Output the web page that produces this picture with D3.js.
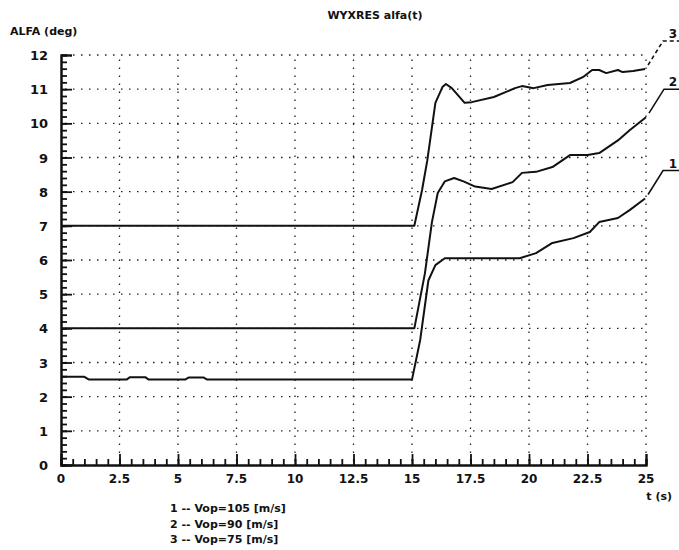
<!DOCTYPE html>
<meta charset="utf-8">
<style>
body { margin: 0; background: #fff; }
svg { display: block; background: #fff; }
text { font-family: "DejaVu Sans", sans-serif; font-weight: bold; fill: #111; }
.grid line { stroke: #222; stroke-width: 1.3px; stroke-dasharray: 1.5,6.5; }
.curve { fill: none; stroke: #111; stroke-width: 2px; stroke-linejoin: round; }
</style>
<svg width="679" height="550"></svg>
<script src="https://cdn.jsdelivr.net/npm/d3@7"></script>
<script>

// time points (s) and angle values (deg)
var t1 = [0, 1.0, 1.2, 2.8, 2.95, 3.6, 3.75, 5.3, 5.45, 6.1, 6.25, 15.0, 15.35, 15.7, 16.0, 16.4, 19.6, 20.3, 21.0, 21.9, 22.6, 23.0, 23.8, 24.3, 24.96];
var alfa1 = [2.58, 2.58, 2.5, 2.5, 2.57, 2.57, 2.5, 2.5, 2.56, 2.56, 2.5, 2.5, 3.66, 5.4, 5.85, 6.05, 6.05, 6.2, 6.5, 6.64, 6.82, 7.11, 7.23, 7.46, 7.8];

var t2 = [0, 15.1, 15.55, 15.85, 16.1, 16.4, 16.8, 17.2, 17.7, 18.4, 19.3, 19.7, 20.3, 21.0, 21.75, 22.5, 23.0, 23.8, 24.3, 25.0];
var alfa2 = [4.0, 4.0, 5.6, 7.1, 7.96, 8.3, 8.4, 8.3, 8.15, 8.08, 8.28, 8.55, 8.58, 8.72, 9.07, 9.07, 9.13, 9.5, 9.8, 10.18];

var t3 = [0, 15.1, 15.43, 15.65, 16.0, 16.3, 16.45, 16.7, 17.25, 17.55, 18.5, 19.4, 19.7, 20.2, 20.8, 21.75, 22.3, 22.7, 23.0, 23.3, 23.8, 24.0, 24.45, 24.96];
var alfa3 = [7.0, 7.0, 8.05, 8.9, 10.6, 11.06, 11.15, 11.03, 10.6, 10.62, 10.77, 11.03, 11.09, 11.03, 11.12, 11.18, 11.35, 11.56, 11.56, 11.47, 11.56, 11.5, 11.53, 11.59];

var xTickLabels = ["0", "2.5", "5", "7.5", "10", "12.5", "15", "17.5", "20", "22.5", "25"];
var yTickLabels = ["0", "1", "2", "3", "4", "5", "6", "7", "8", "9", "10", "11", "12"];
var seriesNames = ["1", "2", "3"];
var legendLines = ["1 -- Vop=105 [m/s]", "2 -- Vop=90 [m/s]", "3 -- Vop=75 [m/s]"];

var svg = d3.select("svg");

var x = d3.scaleLinear().domain([0, 25]).range([61, 646]);
var y = d3.scaleLinear().domain([0, 12]).range([465, 55]);

// dotted grid
var grid = svg.append("g").attr("class", "grid");
grid.selectAll(".h")
    .data(d3.range(1, 13))
  .enter().append("line")
    .attr("x1", x(0) + 4).attr("x2", x(25))
    .attr("y1", function(d) { return y(d); })
    .attr("y2", function(d) { return y(d); });
grid.selectAll(".v")
    .data(d3.range(2.5, 25.01, 2.5))
  .enter().append("line")
    .attr("y1", y(0) - 4).attr("y2", y(12))
    .attr("x1", function(d) { return x(d); })
    .attr("x2", function(d) { return x(d); });

// axes with inward ticks
var yMinor = d3.axisRight(y).tickValues(d3.range(0, 12.01, 0.2)).tickSize(6).tickFormat("");
var yMajor = d3.axisRight(y).tickValues(d3.range(0, 13)).tickSize(11).tickFormat("");
var xMinor = d3.axisTop(x).tickValues(d3.range(0, 25.01, 0.5)).tickSize(6).tickFormat("");
var xMajor = d3.axisTop(x).tickValues(d3.range(0, 25.01, 2.5)).tickSize(11).tickFormat("");

[yMinor, yMajor].forEach(function(a) {
  svg.append("g").attr("transform", "translate(" + x(0) + ",0)").call(a);
});
[xMinor, xMajor].forEach(function(a) {
  svg.append("g").attr("transform", "translate(0," + y(0) + ")").call(a);
});
svg.selectAll(".domain").attr("stroke", "#111").attr("stroke-width", 2);
svg.selectAll(".tick line").attr("stroke", "#111").attr("stroke-width", 1.8);

// tick labels
svg.append("g").selectAll("text")
    .data(yTickLabels)
  .enter().append("text")
    .attr("x", 48)
    .attr("y", function(d) { return y(+d) + 5; })
    .attr("text-anchor", "end")
    .style("font-size", "13px")
    .text(function(d) { return d; });

svg.append("g").selectAll("text")
    .data(xTickLabels)
  .enter().append("text")
    .attr("x", function(d) { return x(+d); })
    .attr("y", 483)
    .attr("text-anchor", "middle")
    .style("font-size", "12px")
    .text(function(d) { return d; });

// curves
var line = d3.line()
    .x(function(d) { return x(d[0]); })
    .y(function(d) { return y(d[1]); });

var series = [d3.zip(t1, alfa1), d3.zip(t2, alfa2), d3.zip(t3, alfa3)];
svg.selectAll(".curve")
    .data(series)
  .enter().append("path")
    .attr("class", "curve")
    .attr("d", line);

// leader lines to the curve numbers
series.forEach(function(s, i) {
  var last = s[s.length - 1];
  var x0 = x(last[0]) + 3, y0 = y(last[1]) - 4;
  var x1 = x0 + 15, y1 = y0 - 24;
  svg.append("path")
      .attr("d", "M" + x0 + "," + y0 + "L" + x1 + "," + y1 + "L679," + y1)
      .attr("fill", "none")
      .attr("stroke", "#111")
      .attr("stroke-width", 1.6)
      .attr("stroke-dasharray", i === 2 ? "4,3" : null);
  svg.append("text")
      .attr("x", 677)
      .attr("y", y1 - 3)
      .attr("text-anchor", "end")
      .style("font-size", "12px")
      .text(seriesNames[i]);
});

// titles
svg.append("text")
    .attr("x", 375).attr("y", 19)
    .attr("text-anchor", "middle")
    .style("font-size", "11px")
    .text("WYXRES   alfa(t)");

svg.append("text")
    .attr("x", 10).attr("y", 35)
    .style("font-size", "11px")
    .text("ALFA (deg)");

svg.append("text")
    .attr("x", 672).attr("y", 500)
    .attr("text-anchor", "end")
    .style("font-size", "11px")
    .text("t (s)");

svg.append("g").selectAll("text")
    .data(legendLines)
  .enter().append("text")
    .attr("x", 170)
    .attr("y", function(d, i) { return 512 + i * 15.5; })
    .style("font-size", "11px")
    .text(function(d) { return d; });

</script>
